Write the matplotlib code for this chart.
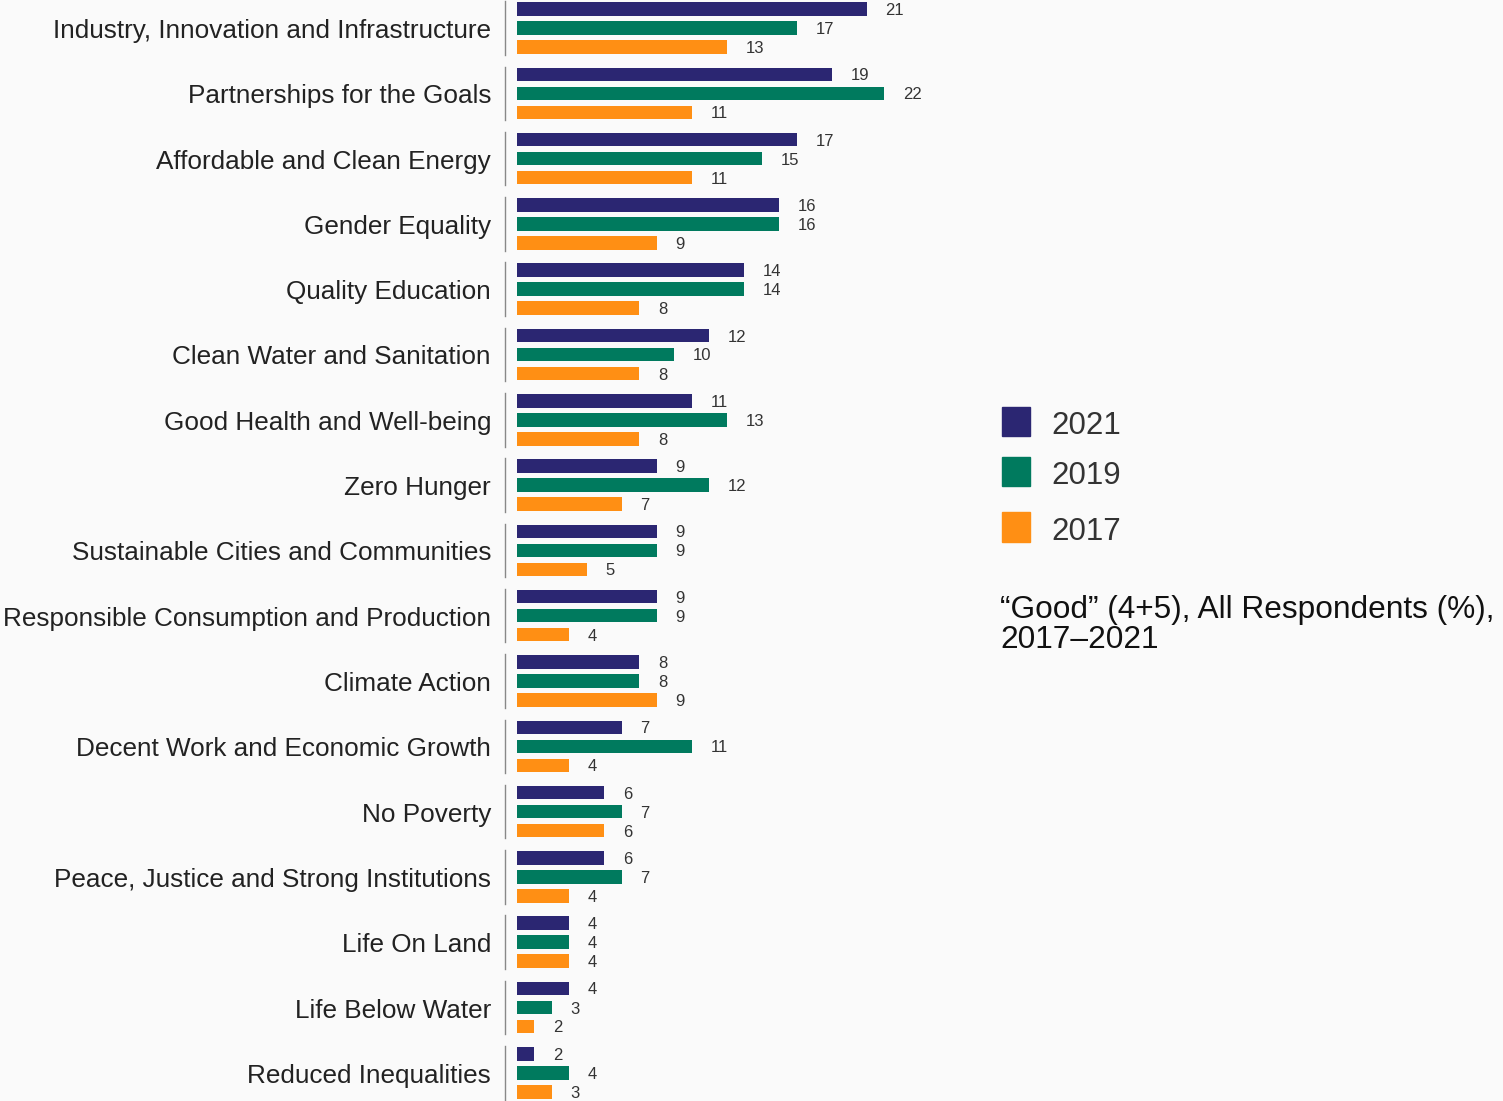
import matplotlib
matplotlib.use("Agg")
import matplotlib.pyplot as plt
from matplotlib.patches import Rectangle

plt.rcParams['font.family'] = ['Liberation Sans', 'DejaVu Sans']

categories = [
    "Industry, Innovation and Infrastructure",
    "Partnerships for the Goals",
    "Affordable and Clean Energy",
    "Gender Equality",
    "Quality Education",
    "Clean Water and Sanitation",
    "Good Health and Well-being",
    "Zero Hunger",
    "Sustainable Cities and Communities",
    "Responsible Consumption and Production",
    "Climate Action",
    "Decent Work and Economic Growth",
    "No Poverty",
    "Peace, Justice and Strong Institutions",
    "Life On Land",
    "Life Below Water",
    "Reduced Inequalities",
]
v2021 = [21, 19, 17, 16, 14, 12, 11, 9, 9, 9, 8, 7, 6, 6, 4, 4, 2]
v2019 = [17, 22, 15, 16, 14, 10, 13, 12, 9, 9, 8, 11, 7, 7, 4, 3, 4]
v2017 = [13, 11, 11, 9, 8, 8, 8, 7, 5, 4, 9, 4, 6, 4, 4, 2, 3]
series_labels = ["2021", "2019", "2017"]
colors = ["#2B2672", "#007A5E", "#FF8F14"]
bg = "#FAFAFA"

W, H = 1503, 1101
fig = plt.figure(figsize=(W / 100, H / 100), dpi=100, facecolor=bg)

px_per_unit = 17.5
zero_px = 499
ax_left_px, ax_right_px = 517, 960
ax = fig.add_axes([ax_left_px / W, 0, (ax_right_px - ax_left_px) / W, 1])
ax.set_facecolor('none')
ax.set_xlim((ax_left_px - zero_px) / px_per_unit, (ax_right_px - zero_px) / px_per_unit)

group_px = 65.3
first_center_px = 28
ax.set_ylim((H - first_center_px) / group_px, -first_center_px / group_px)

offset = 19 / group_px
bh = 13.5 / group_px
txt_shift = 2 / group_px
series = [v2021, v2019, v2017]
for j, (vals, c) in enumerate(zip(series, colors)):
    ys = [i + (j - 1) * offset for i in range(len(categories))]
    ax.barh(ys, vals, height=bh, color=c, edgecolor='none')
    for y, v in zip(ys, vals):
        ax.text(v + 19 / px_per_unit, y + 1.5 / group_px, str(v), ha='left', va='center',
                fontsize=12, color='#333333')

sep_x = (505 - zero_px) / px_per_unit
lab_x = (491 - zero_px) / px_per_unit
for i, cat in enumerate(categories):
    ax.plot([sep_x, sep_x], [i - 0.41, i + 0.41], color='#888888', lw=1.0,
            clip_on=False)
    ax.text(lab_x, i + 3 / group_px, cat, ha='right', va='center', fontsize=18.8,
            color='#222222', clip_on=False)

for s in ax.spines.values():
    s.set_visible(False)
ax.set_xticks([])
ax.set_yticks([])

# legend
leg_y = [421, 471, 527]
for lab, c, yc in zip(series_labels, colors, leg_y):
    fig.patches.append(Rectangle((1002 / W, (H - yc - 14.5) / H), 28 / W, 29 / H,
                                 transform=fig.transFigure, color=c))
    fig.text(1051 / W, (H - yc - 5) / H, lab, ha='left', va='center',
             fontsize=22.5, color='#333333')

fig.text(1000 / W, (H - 625) / H, "\u201cGood\u201d (4+5), All Respondents (%),\n2017\u20132021",
         ha='left', va='center', fontsize=22.8, color='#111111', linespacing=1.03)

fig.savefig("out.png", dpi=100, facecolor=bg)
